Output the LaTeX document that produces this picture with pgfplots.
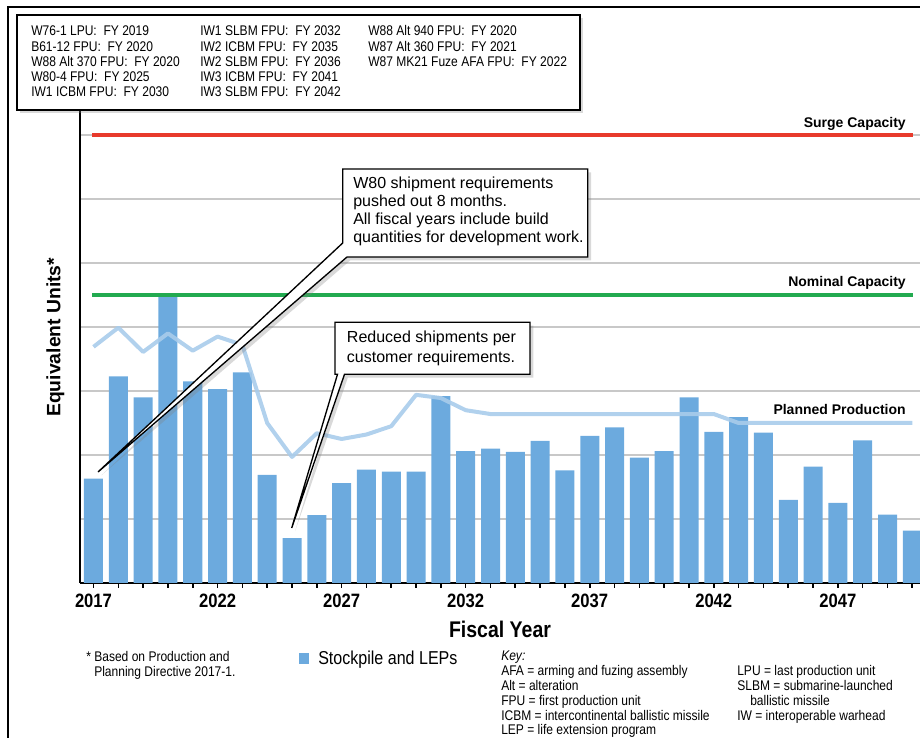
\documentclass[border=0pt]{standalone}
\usepackage{pgfplots}
\pgfplotsset{compat=1.18}
\usepackage{pgfplotstable}
\usepackage{fontspec}
\setmainfont{Liberation Sans}
\newfontfamily\narrow[FakeStretch=0.86]{Liberation Sans}
\usetikzlibrary{shadows}

\definecolor{barblue}{RGB}{108,170,222}
\definecolor{planblue}{RGB}{168,204,235}
\definecolor{surgered}{RGB}{232,58,44}
\definecolor{nomgreen}{RGB}{34,170,80}
\definecolor{gridgray}{RGB}{200,200,200}

% stockpile and LEP units by fiscal year
\pgfplotstableread{
year units
2017 1.63
2018 3.23
2019 2.90
2020 4.47
2021 3.15
2022 3.03
2023 3.29
2024 1.69
2025 0.70
2026 1.06
2027 1.56
2028 1.77
2029 1.74
2030 1.74
2031 2.92
2032 2.06
2033 2.10
2034 2.05
2035 2.22
2036 1.76
2037 2.30
2038 2.43
2039 1.96
2040 2.06
2041 2.90
2042 2.36
2043 2.59
2044 2.35
2045 1.30
2046 1.82
2047 1.25
2048 2.23
2049 1.07
2050 0.82
}\stockpile

% planned production
\pgfplotstableread{
year units
2017 3.69
2018 3.99
2019 3.61
2020 3.90
2021 3.63
2022 3.85
2023 3.72
2024 2.50
2025 1.97
2026 2.34
2027 2.25
2028 2.32
2029 2.45
2030 2.94
2031 2.89
2032 2.70
2033 2.64
2042 2.64
2043 2.50
2050 2.50
}\planned

\newcommand\smallnarrow{\narrow\fontsize{10.5}{12}\selectfont}

\begin{document}
\begin{tikzpicture}
\path[use as bounding box] (0,0) rectangle (690pt,553.5pt);
\begin{axis}[
  at={(60pt,116.25pt)}, anchor=south west,
  scale only axis, width=630pt, height=384pt,
  xmin=2016.456, xmax=2050.31, ymin=0, ymax=8,
  axis x line=bottom, axis y line=left,
  axis line style={line width=1.5pt, -},
  xtick={2017,...,2050},
  xticklabels={2017,,,,,2022,,,,,2027,,,,,2032,,,,,2037,,,,,2042,,,,,2047,,,},
  xticklabel style={font=\narrow\bfseries\fontsize{14.5}{16}\selectfont, yshift=-1pt},
  xtick style={line width=1.2pt, black},
  tick align=center, major tick length=7pt,
  ytick={1,...,7}, yticklabels={}, ytick style={draw=none},
  ymajorgrids, grid style={gridgray, line width=0.9pt},
  xlabel={Fiscal Year},
  xlabel style={font=\narrow\bfseries\fontsize{17}{19}\selectfont,
    at={(axis description cs:0.5,0)}, anchor=center, yshift=-35pt},
  ylabel={Equivalent Units*},
  ylabel style={font=\bfseries\fontsize{14.5}{16}\selectfont,
    at={(axis description cs:0,0.48)}, anchor=center, yshift=18.5pt},
]
\addplot[ybar, bar width=14.25pt, bar shift=0pt, fill=barblue, draw=none]
  table[x=year, y=units]{\stockpile};
\addplot[planblue, line width=3pt, line join=round, opacity=0.9]
  table[x=year, y=units]{\planned};
\addplot[nomgreen, line width=2.8pt] coordinates {(2016.94,4.5) (2050.02,4.5)};
\addplot[surgered, line width=3pt] coordinates {(2016.94,7) (2050.02,7)};
\end{axis}

\begin{scope}[x=0.75pt, y=-0.75pt, shift={(0,553.5pt)}]
% frame
\draw[line width=1.5pt] (8,760) -- (8,7) -- (935,7);

% FPU list box
\draw[line width=1.2pt, fill=white,
  drop shadow={opacity=0.3, shadow xshift=2.5pt, shadow yshift=-2.5pt}]
  (17,15) rectangle (580,110);
\begin{scope}[every node/.style={anchor=base west, inner sep=0, font=\smallnarrow}]
\node at (31,36) {W76-1 LPU:~ FY 2019};
\node at (31,51.2) {B61-12 FPU:~ FY 2020};
\node at (31,66.4) {W88 Alt 370 FPU:~ FY 2020};
\node at (31,81.6) {W80-4 FPU:~ FY 2025};
\node at (31,96.8) {IW1 ICBM FPU:~ FY 2030};
\node at (200,36) {IW1 SLBM FPU:~ FY 2032};
\node at (200,51.2) {IW2 ICBM FPU:~ FY 2035};
\node at (200,66.4) {IW2 SLBM FPU:~ FY 2036};
\node at (200,81.6) {IW3 ICBM FPU:~ FY 2041};
\node at (200,96.8) {IW3 SLBM FPU:~ FY 2042};
\node at (368,36) {W88 Alt 940 FPU:~ FY 2020};
\node at (368,51.2) {W87 Alt 360 FPU:~ FY 2021};
\node at (368,66.4) {W87 MK21 Fuze AFA FPU:~ FY 2022};
\end{scope}

% line labels
\begin{scope}[every node/.style={anchor=east, inner sep=0, font=\bfseries\fontsize{10.5}{12}\selectfont}]
\node at (906,124) {Surge Capacity};
\node at (906,283) {Nominal Capacity};
\node at (906,410) {Planned Production};
\end{scope}

% callouts
\draw[line width=1pt, fill=white,
  drop shadow={opacity=0.3, shadow xshift=2.5pt, shadow yshift=-2.5pt}]
  (342.7,169) -- (587.7,169) -- (587.7,257) -- (347,257) -- (98,472)
  -- (342.7,243) -- cycle;
\node[anchor=north west, align=left, inner sep=0, font=\fontsize{12}{13.3}\selectfont]
  at (353,177) {W80 shipment requirements\\pushed out 8 months.\\All fiscal years include build\\quantities for development work.};

\draw[line width=1pt, fill=white,
  drop shadow={opacity=0.3, shadow xshift=2.5pt, shadow yshift=-2.5pt}]
  (335,322.3) -- (530,322.3) -- (530,374.3) -- (344.5,374.3) -- (291.7,528)
  -- (337.5,374.3) -- (335,374.3) -- cycle;
\node[anchor=north west, align=left, inner sep=0, font=\fontsize{12}{14.8}\selectfont]
  at (346.7,331) {Reduced shipments per\\customer requirements.};

% notes and legend
\begin{scope}[every node/.style={anchor=base west, inner sep=0, font=\smallnarrow}]
\node at (86,662) {* Based on Production and};
\node at (94,677) {Planning Directive 2017-1.};
\node at (501,661) {\itshape Key:};
\node at (501,676) {AFA = arming and fuzing assembly};
\node at (501,691) {Alt = alteration};
\node at (501,706) {FPU = first production unit};
\node at (501,721) {ICBM = intercontinental ballistic missile};
\node at (501,735) {LEP = life extension program};
\node at (737,676) {LPU = last production unit};
\node at (737,691) {SLBM = submarine-launched};
\node at (750,706) {ballistic missile};
\node at (737,721) {IW = interoperable warhead};
\end{scope}
\fill[barblue] (299,653) rectangle (309,664);
\node[anchor=west, inner sep=0, font=\narrow\fontsize{14}{16}\selectfont] at (318,660) {Stockpile and LEPs};
\end{scope}
\end{tikzpicture}
\end{document}
